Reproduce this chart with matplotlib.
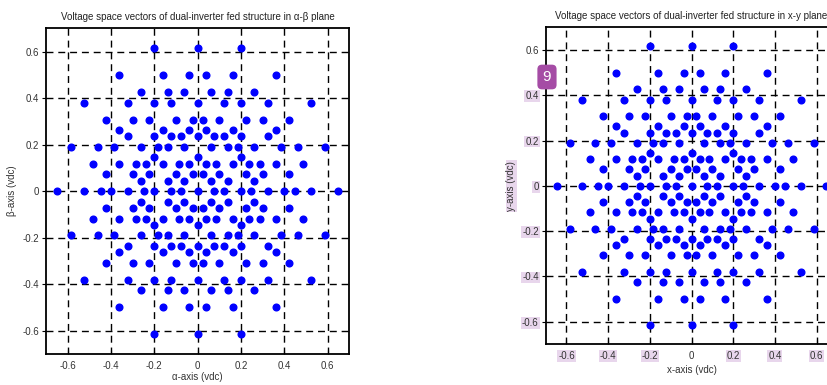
"""Voltage space vectors of a dual-inverter fed five-phase structure,
shown in the alpha-beta and x-y planes (side by side, right one cropped)."""

from itertools import product

import matplotlib
matplotlib.use("Agg")
import matplotlib.pyplot as plt
import numpy as np

plt.rcParams["font.family"] = ["Liberation Sans", "DejaVu Sans"]
plt.rcParams["axes.unicode_minus"] = False

# Per-phase voltage levels of the dual inverter (in units of the phase step)
phase_levels = [-1, 0, 1]
# Phase displacement of the five phases in each plane (degrees)
alpha_beta_angles = [0, 72, 144, 216, 288]
x_y_angles = [0, 144, 288, 72, 216]
# Amplitude of one phase step projected onto the plane (vdc)
step_vdc = 0.2

tick_vals = [-0.6, -0.4, -0.2, 0, 0.2, 0.4, 0.6]
tick_text = ["-0.6", "-0.4", "-0.2", "0", "0.2", "0.4", "0.6"]

HILITE = "#e8d6ec"
DOT = "#0000ff"


def space_vectors(angles_deg):
    ang = np.deg2rad(angles_deg)
    phasors = np.exp(1j * ang)
    pts = set()
    for state in product(phase_levels, repeat=len(angles_deg)):
        v = step_vdc * np.dot(state, phasors)
        pts.add((round(v.real, 6), round(v.imag, 6)))
    pts = np.array(sorted(pts))
    return pts[:, 0], pts[:, 1]


def draw_panel(ax, angles, title, xlabel, ylabel, xpad):
    xs, ys = space_vectors(angles)
    for t in tick_vals:
        ax.axvline(t, color="k", lw=1.0, ls=(0, (5, 3.5)), zorder=1)
        ax.axhline(t, color="k", lw=1.0, ls=(0, (5, 3.5)), zorder=1)
    ax.plot(xs, ys, "o", ms=4.8, color=DOT, mec=DOT, zorder=3)
    ax.set_xlim(-0.7, 0.7)
    ax.set_ylim(-0.7, 0.7)
    ax.set_xticks(tick_vals)
    ax.set_xticklabels(tick_text)
    ax.set_yticks(tick_vals)
    ax.set_yticklabels(tick_text)
    ax.tick_params(axis="x", direction="in", length=3, width=0.8,
                   labelsize=7, pad=5, colors="k", labelcolor="#333333")
    ax.tick_params(axis="y", direction="out", length=3, width=0.8,
                   labelsize=7, pad=2, colors="k", labelcolor="#333333")
    for sp in ax.spines.values():
        sp.set_linewidth(1.3)
    ax.set_title(title, fontsize=7, color="#222222", pad=6)
    ax.set_xlabel(xlabel, fontsize=7, color="#333333", labelpad=xpad)
    ax.set_ylabel(ylabel, fontsize=7, color="#333333", labelpad=4)


fig = plt.figure(figsize=(8.28, 3.85), dpi=100)
ax1 = fig.add_axes([0.0556, 0.0805, 0.3663, 0.846])
ax2 = fig.add_axes([0.659, 0.1057, 0.3524, 0.8234])

draw_panel(ax1, alpha_beta_angles,
           "Voltage space vectors of dual-inverter fed structure in α-β plane",
           "α-axis (vdc)", "β-axis (vdc)", xpad=0.5)
draw_panel(ax2, x_y_angles,
           "Voltage space vectors of dual-inverter fed structure in x-y plane",
           "x-axis (vdc)", "y-axis (vdc)", xpad=3)

# text-selection style highlights on the right panel
for lab in ax2.get_yticklabels():
    if lab.get_text() not in ("0.6",):
        lab.set_bbox(dict(facecolor=HILITE, edgecolor="none", pad=0.6))
for lab in ax2.get_xticklabels():
    if lab.get_text() not in ("0",):
        lab.set_bbox(dict(facecolor=HILITE, edgecolor="none", pad=0.6))
ax2.yaxis.label.set_bbox(dict(facecolor=HILITE, edgecolor="none", pad=0.6))

# badge
fig.text(0.6606, 0.8, "9", fontsize=11, color="white", ha="center", va="center",
         bbox=dict(boxstyle="round,pad=0.35,rounding_size=0.3",
                   facecolor="#a54ca5", edgecolor="none"))

fig.savefig("out.png", dpi=100)
